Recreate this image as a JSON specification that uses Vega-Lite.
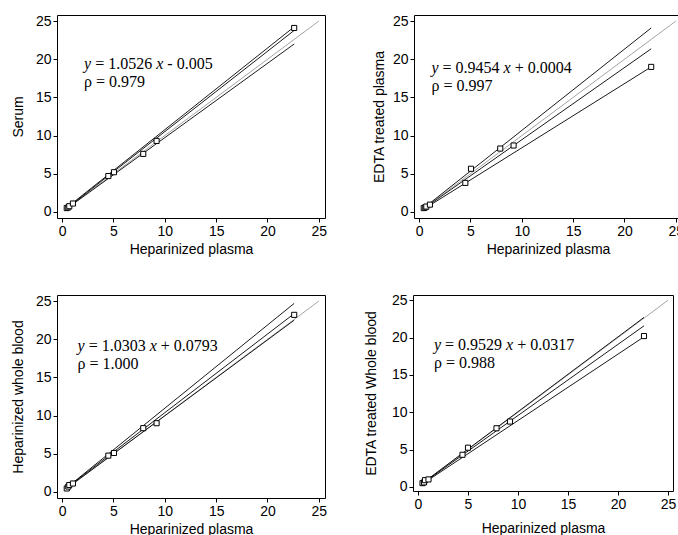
{
  "$schema": "https://vega.github.io/schema/vega-lite/v6.json",
  "padding": {"left": 10, "top": 13, "right": 0, "bottom": 0},
  "background": "white",
  "spacing": 35,
  "datasets": {
    "points": [
      {"panel": 1, "x": 0.45, "y": 0.5}, {"panel": 1, "x": 0.6, "y": 0.6}, {"panel": 1, "x": 0.7, "y": 0.75}, {"panel": 1, "x": 1.05, "y": 1.1}, {"panel": 1, "x": 4.5, "y": 4.7}, {"panel": 1, "x": 5.05, "y": 5.2}, {"panel": 1, "x": 7.9, "y": 7.6}, {"panel": 1, "x": 9.2, "y": 9.3}, {"panel": 1, "x": 22.6, "y": 24.1},
      {"panel": 2, "x": 0.45, "y": 0.5}, {"panel": 2, "x": 0.6, "y": 0.6}, {"panel": 2, "x": 0.7, "y": 0.7}, {"panel": 2, "x": 1.05, "y": 0.95}, {"panel": 2, "x": 4.5, "y": 3.8}, {"panel": 2, "x": 5.05, "y": 5.65}, {"panel": 2, "x": 7.9, "y": 8.3}, {"panel": 2, "x": 9.2, "y": 8.7}, {"panel": 2, "x": 22.6, "y": 19.0},
      {"panel": 3, "x": 0.45, "y": 0.45}, {"panel": 3, "x": 0.6, "y": 0.7}, {"panel": 3, "x": 0.7, "y": 0.9}, {"panel": 3, "x": 1.05, "y": 1.1}, {"panel": 3, "x": 4.5, "y": 4.75}, {"panel": 3, "x": 5.05, "y": 5.1}, {"panel": 3, "x": 7.9, "y": 8.35}, {"panel": 3, "x": 9.2, "y": 9.0}, {"panel": 3, "x": 22.6, "y": 23.2},
      {"panel": 4, "x": 0.45, "y": 0.5}, {"panel": 4, "x": 0.6, "y": 0.6}, {"panel": 4, "x": 0.7, "y": 0.9}, {"panel": 4, "x": 1.05, "y": 1.0}, {"panel": 4, "x": 4.45, "y": 4.3}, {"panel": 4, "x": 5.0, "y": 5.25}, {"panel": 4, "x": 7.85, "y": 7.85}, {"panel": 4, "x": 9.2, "y": 8.75}, {"panel": 4, "x": 22.6, "y": 20.2}
    ],
    "lines": [
      {"panel": 1, "line": "identity", "x": 0.4, "y": 0.4}, {"panel": 1, "line": "identity", "x": 25, "y": 25},
      {"panel": 1, "line": "upper", "x": 0.4, "y": 0.5}, {"panel": 1, "line": "upper", "x": 22.6, "y": 24.25},
      {"panel": 1, "line": "fit", "x": 0.4, "y": 0.42}, {"panel": 1, "line": "fit", "x": 22.6, "y": 23.78},
      {"panel": 1, "line": "lower", "x": 0.4, "y": 0.38}, {"panel": 1, "line": "lower", "x": 22.6, "y": 22.0},
      {"panel": 2, "line": "identity", "x": 0.4, "y": 0.4}, {"panel": 2, "line": "identity", "x": 25, "y": 25},
      {"panel": 2, "line": "upper", "x": 0.4, "y": 0.45}, {"panel": 2, "line": "upper", "x": 22.6, "y": 24.1},
      {"panel": 2, "line": "fit", "x": 0.4, "y": 0.38}, {"panel": 2, "line": "fit", "x": 22.6, "y": 21.37},
      {"panel": 2, "line": "lower", "x": 0.4, "y": 0.32}, {"panel": 2, "line": "lower", "x": 22.6, "y": 19.0},
      {"panel": 3, "line": "identity", "x": 0.4, "y": 0.4}, {"panel": 3, "line": "identity", "x": 25, "y": 25},
      {"panel": 3, "line": "upper", "x": 0.4, "y": 0.5}, {"panel": 3, "line": "upper", "x": 22.6, "y": 24.7},
      {"panel": 3, "line": "fit", "x": 0.4, "y": 0.49}, {"panel": 3, "line": "fit", "x": 22.6, "y": 23.36},
      {"panel": 3, "line": "lower", "x": 0.4, "y": 0.42}, {"panel": 3, "line": "lower", "x": 22.6, "y": 22.5},
      {"panel": 4, "line": "identity", "x": 0.4, "y": 0.4}, {"panel": 4, "line": "identity", "x": 25, "y": 25},
      {"panel": 4, "line": "upper", "x": 0.4, "y": 0.45}, {"panel": 4, "line": "upper", "x": 22.6, "y": 22.7},
      {"panel": 4, "line": "fit", "x": 0.4, "y": 0.41}, {"panel": 4, "line": "fit", "x": 22.6, "y": 21.57},
      {"panel": 4, "line": "lower", "x": 0.4, "y": 0.35}, {"panel": 4, "line": "lower", "x": 22.6, "y": 20.1}
    ],
    "eqs": [
      {"panel": 1, "part": "a", "t": "y"}, {"panel": 1, "part": "b", "t": "= 1.0526"}, {"panel": 1, "part": "c", "t": "x"}, {"panel": 1, "part": "d", "t": "- 0.005"}, {"panel": 1, "part": "e", "t": "ρ = 0.979"},
      {"panel": 2, "part": "a", "t": "y"}, {"panel": 2, "part": "b", "t": "= 0.9454"}, {"panel": 2, "part": "c", "t": "x"}, {"panel": 2, "part": "d", "t": "+ 0.0004"}, {"panel": 2, "part": "e", "t": "ρ = 0.997"},
      {"panel": 3, "part": "a", "t": "y"}, {"panel": 3, "part": "b", "t": "= 1.0303"}, {"panel": 3, "part": "c", "t": "x"}, {"panel": 3, "part": "d", "t": "+ 0.0793"}, {"panel": 3, "part": "e", "t": "ρ = 1.000"},
      {"panel": 4, "part": "a", "t": "y"}, {"panel": 4, "part": "b", "t": "= 0.9529"}, {"panel": 4, "part": "c", "t": "x"}, {"panel": 4, "part": "d", "t": "+ 0.0317"}, {"panel": 4, "part": "e", "t": "ρ = 0.988"}
    ]
  },
  "vconcat": [
    {
      "hconcat": [
        {
          "width": 268, "height": 203,
          "layer": [
            {"data": {"name": "lines"}, "transform": [{"filter": "datum.panel == 1 && datum.line == 'identity'"}], "mark": {"type": "line", "color": "#8c8c8c", "strokeWidth": 0.8},
             "encoding": {"x": {"field": "x", "type": "quantitative", "scale": {"domain": [-0.5, 25.6], "nice": false, "zero": false}, "axis": {"values": [0, 5, 10, 15, 20, 25]}, "title": "Heparinized plasma"}, "y": {"field": "y", "type": "quantitative", "scale": {"domain": [-0.8, 25.8], "nice": false, "zero": false}, "axis": {"values": [0, 5, 10, 15, 20, 25]}, "title": "Serum"}}},
            {"data": {"name": "lines"}, "transform": [{"filter": "datum.panel == 1 && datum.line != 'identity'"}], "mark": {"type": "line", "color": "black", "strokeWidth": 0.9},
             "encoding": {"x": {"field": "x", "type": "quantitative", "axis": {"values": [0, 5, 10, 15, 20, 25]}, "title": "Heparinized plasma"}, "y": {"field": "y", "type": "quantitative", "axis": {"values": [0, 5, 10, 15, 20, 25]}, "title": "Serum"}, "detail": {"field": "line"}}},
            {"data": {"name": "points"}, "transform": [{"filter": "datum.panel == 1"}], "mark": {"type": "point", "shape": "square", "size": 26, "fill": "white", "stroke": "black", "strokeWidth": 1, "opacity": 1},
             "encoding": {"x": {"field": "x", "type": "quantitative", "axis": {"values": [0, 5, 10, 15, 20, 25]}, "title": "Heparinized plasma"}, "y": {"field": "y", "type": "quantitative", "axis": {"values": [0, 5, 10, 15, 20, 25]}, "title": "Serum"}}},
            {"data": {"name": "eqs"}, "transform": [{"filter": "datum.panel == 1 && datum.part == 'a'"}], "mark": {"type": "text", "fontStyle": "italic"}, "encoding": {"x": {"datum": 2.14, "type": "quantitative", "axis": {"values": [0, 5, 10, 15, 20, 25]}, "title": "Heparinized plasma"}, "y": {"datum": 19.4, "type": "quantitative", "axis": {"values": [0, 5, 10, 15, 20, 25]}, "title": "Serum"}, "text": {"field": "t"}}},
            {"data": {"name": "eqs"}, "transform": [{"filter": "datum.panel == 1 && datum.part == 'b'"}], "mark": {"type": "text", "dx": 11.1}, "encoding": {"x": {"datum": 2.14, "type": "quantitative", "axis": {"values": [0, 5, 10, 15, 20, 25]}, "title": "Heparinized plasma"}, "y": {"datum": 19.4, "type": "quantitative", "axis": {"values": [0, 5, 10, 15, 20, 25]}, "title": "Serum"}, "text": {"field": "t"}}},
            {"data": {"name": "eqs"}, "transform": [{"filter": "datum.panel == 1 && datum.part == 'c'"}], "mark": {"type": "text", "fontStyle": "italic", "dx": 72.1}, "encoding": {"x": {"datum": 2.14, "type": "quantitative", "axis": {"values": [0, 5, 10, 15, 20, 25]}, "title": "Heparinized plasma"}, "y": {"datum": 19.4, "type": "quantitative", "axis": {"values": [0, 5, 10, 15, 20, 25]}, "title": "Serum"}, "text": {"field": "t"}}},
            {"data": {"name": "eqs"}, "transform": [{"filter": "datum.panel == 1 && datum.part == 'd'"}], "mark": {"type": "text", "dx": 83.2}, "encoding": {"x": {"datum": 2.14, "type": "quantitative", "axis": {"values": [0, 5, 10, 15, 20, 25]}, "title": "Heparinized plasma"}, "y": {"datum": 19.4, "type": "quantitative", "axis": {"values": [0, 5, 10, 15, 20, 25]}, "title": "Serum"}, "text": {"field": "t"}}},
            {"data": {"name": "eqs"}, "transform": [{"filter": "datum.panel == 1 && datum.part == 'e'"}], "mark": {"type": "text", "dy": 18}, "encoding": {"x": {"datum": 2.14, "type": "quantitative", "axis": {"values": [0, 5, 10, 15, 20, 25]}, "title": "Heparinized plasma"}, "y": {"datum": 19.4, "type": "quantitative", "axis": {"values": [0, 5, 10, 15, 20, 25]}, "title": "Serum"}, "text": {"field": "t"}}}
          ]
        },
        {
          "width": 268, "height": 203,
          "layer": [
            {"data": {"name": "lines"}, "transform": [{"filter": "datum.panel == 2 && datum.line == 'identity'"}], "mark": {"type": "line", "color": "#8c8c8c", "strokeWidth": 0.8},
             "encoding": {"x": {"field": "x", "type": "quantitative", "scale": {"domain": [-0.5, 25.6], "nice": false, "zero": false}, "axis": {"values": [0, 5, 10, 15, 20, 25]}, "title": "Heparinized plasma"}, "y": {"field": "y", "type": "quantitative", "scale": {"domain": [-0.8, 25.8], "nice": false, "zero": false}, "axis": {"values": [0, 5, 10, 15, 20, 25], "titlePadding": 6}, "title": "EDTA treated plasma"}}},
            {"data": {"name": "lines"}, "transform": [{"filter": "datum.panel == 2 && datum.line != 'identity'"}], "mark": {"type": "line", "color": "black", "strokeWidth": 0.9},
             "encoding": {"x": {"field": "x", "type": "quantitative", "axis": {"values": [0, 5, 10, 15, 20, 25]}, "title": "Heparinized plasma"}, "y": {"field": "y", "type": "quantitative", "axis": {"values": [0, 5, 10, 15, 20, 25], "titlePadding": 6}, "title": "EDTA treated plasma"}, "detail": {"field": "line"}}},
            {"data": {"name": "points"}, "transform": [{"filter": "datum.panel == 2"}], "mark": {"type": "point", "shape": "square", "size": 26, "fill": "white", "stroke": "black", "strokeWidth": 1, "opacity": 1},
             "encoding": {"x": {"field": "x", "type": "quantitative", "axis": {"values": [0, 5, 10, 15, 20, 25]}, "title": "Heparinized plasma"}, "y": {"field": "y", "type": "quantitative", "axis": {"values": [0, 5, 10, 15, 20, 25], "titlePadding": 6}, "title": "EDTA treated plasma"}}},
            {"data": {"name": "eqs"}, "transform": [{"filter": "datum.panel == 2 && datum.part == 'a'"}], "mark": {"type": "text", "fontStyle": "italic"}, "encoding": {"x": {"datum": 1.2, "type": "quantitative", "axis": {"values": [0, 5, 10, 15, 20, 25]}, "title": "Heparinized plasma"}, "y": {"datum": 18.9, "type": "quantitative", "axis": {"values": [0, 5, 10, 15, 20, 25], "titlePadding": 6}, "title": "EDTA treated plasma"}, "text": {"field": "t"}}},
            {"data": {"name": "eqs"}, "transform": [{"filter": "datum.panel == 2 && datum.part == 'b'"}], "mark": {"type": "text", "dx": 11.1}, "encoding": {"x": {"datum": 1.2, "type": "quantitative", "axis": {"values": [0, 5, 10, 15, 20, 25]}, "title": "Heparinized plasma"}, "y": {"datum": 18.9, "type": "quantitative", "axis": {"values": [0, 5, 10, 15, 20, 25], "titlePadding": 6}, "title": "EDTA treated plasma"}, "text": {"field": "t"}}},
            {"data": {"name": "eqs"}, "transform": [{"filter": "datum.panel == 2 && datum.part == 'c'"}], "mark": {"type": "text", "fontStyle": "italic", "dx": 72.1}, "encoding": {"x": {"datum": 1.2, "type": "quantitative", "axis": {"values": [0, 5, 10, 15, 20, 25]}, "title": "Heparinized plasma"}, "y": {"datum": 18.9, "type": "quantitative", "axis": {"values": [0, 5, 10, 15, 20, 25], "titlePadding": 6}, "title": "EDTA treated plasma"}, "text": {"field": "t"}}},
            {"data": {"name": "eqs"}, "transform": [{"filter": "datum.panel == 2 && datum.part == 'd'"}], "mark": {"type": "text", "dx": 83.2}, "encoding": {"x": {"datum": 1.2, "type": "quantitative", "axis": {"values": [0, 5, 10, 15, 20, 25]}, "title": "Heparinized plasma"}, "y": {"datum": 18.9, "type": "quantitative", "axis": {"values": [0, 5, 10, 15, 20, 25], "titlePadding": 6}, "title": "EDTA treated plasma"}, "text": {"field": "t"}}},
            {"data": {"name": "eqs"}, "transform": [{"filter": "datum.panel == 2 && datum.part == 'e'"}], "mark": {"type": "text", "dy": 18}, "encoding": {"x": {"datum": 1.2, "type": "quantitative", "axis": {"values": [0, 5, 10, 15, 20, 25]}, "title": "Heparinized plasma"}, "y": {"datum": 18.9, "type": "quantitative", "axis": {"values": [0, 5, 10, 15, 20, 25], "titlePadding": 6}, "title": "EDTA treated plasma"}, "text": {"field": "t"}}}
          ]
        }
      ],
      "spacing": 89,
      "bounds": "flush"
    },
    {
      "hconcat": [
        {
          "width": 268, "height": 203,
          "layer": [
            {"data": {"name": "lines"}, "transform": [{"filter": "datum.panel == 3 && datum.line == 'identity'"}], "mark": {"type": "line", "color": "#8c8c8c", "strokeWidth": 0.8},
             "encoding": {"x": {"field": "x", "type": "quantitative", "scale": {"domain": [-0.5, 25.6], "nice": false, "zero": false}, "axis": {"values": [0, 5, 10, 15, 20, 25]}, "title": "Heparinized plasma"}, "y": {"field": "y", "type": "quantitative", "scale": {"domain": [-0.8, 25.8], "nice": false, "zero": false}, "axis": {"values": [0, 5, 10, 15, 20, 25]}, "title": "Heparinized whole blood"}}},
            {"data": {"name": "lines"}, "transform": [{"filter": "datum.panel == 3 && datum.line != 'identity'"}], "mark": {"type": "line", "color": "black", "strokeWidth": 0.9},
             "encoding": {"x": {"field": "x", "type": "quantitative", "axis": {"values": [0, 5, 10, 15, 20, 25]}, "title": "Heparinized plasma"}, "y": {"field": "y", "type": "quantitative", "axis": {"values": [0, 5, 10, 15, 20, 25]}, "title": "Heparinized whole blood"}, "detail": {"field": "line"}}},
            {"data": {"name": "points"}, "transform": [{"filter": "datum.panel == 3"}], "mark": {"type": "point", "shape": "square", "size": 26, "fill": "white", "stroke": "black", "strokeWidth": 1, "opacity": 1},
             "encoding": {"x": {"field": "x", "type": "quantitative", "axis": {"values": [0, 5, 10, 15, 20, 25]}, "title": "Heparinized plasma"}, "y": {"field": "y", "type": "quantitative", "axis": {"values": [0, 5, 10, 15, 20, 25]}, "title": "Heparinized whole blood"}}},
            {"data": {"name": "eqs"}, "transform": [{"filter": "datum.panel == 3 && datum.part == 'a'"}], "mark": {"type": "text", "fontStyle": "italic"}, "encoding": {"x": {"datum": 1.5, "type": "quantitative", "axis": {"values": [0, 5, 10, 15, 20, 25]}, "title": "Heparinized plasma"}, "y": {"datum": 19.15, "type": "quantitative", "axis": {"values": [0, 5, 10, 15, 20, 25]}, "title": "Heparinized whole blood"}, "text": {"field": "t"}}},
            {"data": {"name": "eqs"}, "transform": [{"filter": "datum.panel == 3 && datum.part == 'b'"}], "mark": {"type": "text", "dx": 11.1}, "encoding": {"x": {"datum": 1.5, "type": "quantitative", "axis": {"values": [0, 5, 10, 15, 20, 25]}, "title": "Heparinized plasma"}, "y": {"datum": 19.15, "type": "quantitative", "axis": {"values": [0, 5, 10, 15, 20, 25]}, "title": "Heparinized whole blood"}, "text": {"field": "t"}}},
            {"data": {"name": "eqs"}, "transform": [{"filter": "datum.panel == 3 && datum.part == 'c'"}], "mark": {"type": "text", "fontStyle": "italic", "dx": 72.1}, "encoding": {"x": {"datum": 1.5, "type": "quantitative", "axis": {"values": [0, 5, 10, 15, 20, 25]}, "title": "Heparinized plasma"}, "y": {"datum": 19.15, "type": "quantitative", "axis": {"values": [0, 5, 10, 15, 20, 25]}, "title": "Heparinized whole blood"}, "text": {"field": "t"}}},
            {"data": {"name": "eqs"}, "transform": [{"filter": "datum.panel == 3 && datum.part == 'd'"}], "mark": {"type": "text", "dx": 83.2}, "encoding": {"x": {"datum": 1.5, "type": "quantitative", "axis": {"values": [0, 5, 10, 15, 20, 25]}, "title": "Heparinized plasma"}, "y": {"datum": 19.15, "type": "quantitative", "axis": {"values": [0, 5, 10, 15, 20, 25]}, "title": "Heparinized whole blood"}, "text": {"field": "t"}}},
            {"data": {"name": "eqs"}, "transform": [{"filter": "datum.panel == 3 && datum.part == 'e'"}], "mark": {"type": "text", "dy": 18}, "encoding": {"x": {"datum": 1.5, "type": "quantitative", "axis": {"values": [0, 5, 10, 15, 20, 25]}, "title": "Heparinized plasma"}, "y": {"datum": 19.15, "type": "quantitative", "axis": {"values": [0, 5, 10, 15, 20, 25]}, "title": "Heparinized whole blood"}, "text": {"field": "t"}}}
          ]
        },
        {
          "width": 260, "height": 196,
          "layer": [
            {"data": {"name": "lines"}, "transform": [{"filter": "datum.panel == 4 && datum.line == 'identity'"}], "mark": {"type": "line", "color": "#8c8c8c", "strokeWidth": 0.8},
             "encoding": {"x": {"field": "x", "type": "quantitative", "scale": {"domain": [-0.5, 25.5], "nice": false, "zero": false}, "axis": {"values": [0, 5, 10, 15, 20, 25], "titlePadding": 10}, "title": "Heparinized plasma"}, "y": {"field": "y", "type": "quantitative", "scale": {"domain": [-0.55, 25.7], "nice": false, "zero": false}, "axis": {"values": [0, 5, 10, 15, 20, 25], "tickCount": 6, "titlePadding": 13}, "title": "EDTA treated Whole blood"}}},
            {"data": {"name": "lines"}, "transform": [{"filter": "datum.panel == 4 && datum.line != 'identity'"}], "mark": {"type": "line", "color": "black", "strokeWidth": 0.9},
             "encoding": {"x": {"field": "x", "type": "quantitative", "axis": {"values": [0, 5, 10, 15, 20, 25], "titlePadding": 10}, "title": "Heparinized plasma"}, "y": {"field": "y", "type": "quantitative", "axis": {"values": [0, 5, 10, 15, 20, 25], "tickCount": 6, "titlePadding": 13}, "title": "EDTA treated Whole blood"}, "detail": {"field": "line"}}},
            {"data": {"name": "points"}, "transform": [{"filter": "datum.panel == 4"}], "mark": {"type": "point", "shape": "square", "size": 26, "fill": "white", "stroke": "black", "strokeWidth": 1, "opacity": 1},
             "encoding": {"x": {"field": "x", "type": "quantitative", "axis": {"values": [0, 5, 10, 15, 20, 25], "titlePadding": 10}, "title": "Heparinized plasma"}, "y": {"field": "y", "type": "quantitative", "axis": {"values": [0, 5, 10, 15, 20, 25], "tickCount": 6, "titlePadding": 13}, "title": "EDTA treated Whole blood"}}},
            {"data": {"name": "eqs"}, "transform": [{"filter": "datum.panel == 4 && datum.part == 'a'"}], "mark": {"type": "text", "fontStyle": "italic"}, "encoding": {"x": {"datum": 1.6, "type": "quantitative", "axis": {"values": [0, 5, 10, 15, 20, 25], "titlePadding": 10}, "title": "Heparinized plasma"}, "y": {"datum": 19.0, "type": "quantitative", "axis": {"values": [0, 5, 10, 15, 20, 25], "tickCount": 6, "titlePadding": 13}, "title": "EDTA treated Whole blood"}, "text": {"field": "t"}}},
            {"data": {"name": "eqs"}, "transform": [{"filter": "datum.panel == 4 && datum.part == 'b'"}], "mark": {"type": "text", "dx": 11.1}, "encoding": {"x": {"datum": 1.6, "type": "quantitative", "axis": {"values": [0, 5, 10, 15, 20, 25], "titlePadding": 10}, "title": "Heparinized plasma"}, "y": {"datum": 19.0, "type": "quantitative", "axis": {"values": [0, 5, 10, 15, 20, 25], "tickCount": 6, "titlePadding": 13}, "title": "EDTA treated Whole blood"}, "text": {"field": "t"}}},
            {"data": {"name": "eqs"}, "transform": [{"filter": "datum.panel == 4 && datum.part == 'c'"}], "mark": {"type": "text", "fontStyle": "italic", "dx": 72.1}, "encoding": {"x": {"datum": 1.6, "type": "quantitative", "axis": {"values": [0, 5, 10, 15, 20, 25], "titlePadding": 10}, "title": "Heparinized plasma"}, "y": {"datum": 19.0, "type": "quantitative", "axis": {"values": [0, 5, 10, 15, 20, 25], "tickCount": 6, "titlePadding": 13}, "title": "EDTA treated Whole blood"}, "text": {"field": "t"}}},
            {"data": {"name": "eqs"}, "transform": [{"filter": "datum.panel == 4 && datum.part == 'd'"}], "mark": {"type": "text", "dx": 83.2}, "encoding": {"x": {"datum": 1.6, "type": "quantitative", "axis": {"values": [0, 5, 10, 15, 20, 25], "titlePadding": 10}, "title": "Heparinized plasma"}, "y": {"datum": 19.0, "type": "quantitative", "axis": {"values": [0, 5, 10, 15, 20, 25], "tickCount": 6, "titlePadding": 13}, "title": "EDTA treated Whole blood"}, "text": {"field": "t"}}},
            {"data": {"name": "eqs"}, "transform": [{"filter": "datum.panel == 4 && datum.part == 'e'"}], "mark": {"type": "text", "dy": 18}, "encoding": {"x": {"datum": 1.6, "type": "quantitative", "axis": {"values": [0, 5, 10, 15, 20, 25], "titlePadding": 10}, "title": "Heparinized plasma"}, "y": {"datum": 19.0, "type": "quantitative", "axis": {"values": [0, 5, 10, 15, 20, 25], "tickCount": 6, "titlePadding": 13}, "title": "EDTA treated Whole blood"}, "text": {"field": "t"}}}
          ]
        }
      ],
      "spacing": 88,
      "bounds": "flush"
    }
  ],
  "config": {
    "view": {"stroke": "black", "strokeWidth": 1},
    "axis": {"grid": false, "domain": false, "ticks": true, "tickColor": "black", "tickSize": 4, "tickWidth": 1, "labelFont": "Liberation Sans", "labelFontSize": 14, "labelColor": "black", "labelPadding": 2, "labelFlush": false, "labelOverlap": false, "titleFont": "Liberation Sans", "titleFontSize": 14, "titleFontWeight": "normal", "titleColor": "black"},
    "axisX": {"titlePadding": 4},
    "axisY": {"titlePadding": 10},
    "text": {"font": "Liberation Serif", "fontSize": 16, "align": "left", "baseline": "middle", "color": "black"}
  }
}
